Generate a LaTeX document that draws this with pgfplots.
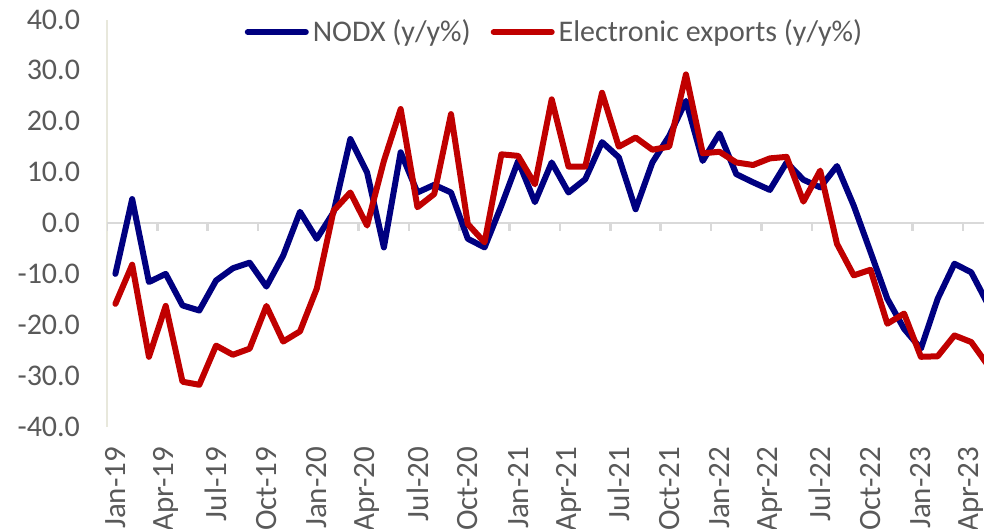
\documentclass[border=0pt]{standalone}
\usepackage{fontspec}
\setmainfont{Carlito}
\usepackage{pgfplots}
\pgfplotsset{compat=1.18}
\definecolor{nodx}{RGB}{0,0,128}
\definecolor{elec}{RGB}{192,0,0}
\definecolor{txt}{RGB}{89,89,89}
\definecolor{zline}{RGB}{217,217,217}
\definecolor{yline}{RGB}{232,232,220}
\begin{document}
\begin{tikzpicture}
\begin{axis}[
  at={(53.5bp,51.25bp)}, anchor=south west,
  scale only axis, width=444.7bp, height=203.5bp,
  xmin=-0.5, xmax=52.5, ymin=-40, ymax=40,
  axis lines*=left,
  x axis line style={draw=none},
  y axis line style={draw=yline, line width=1.3bp},
  xtick={0,3,...,51},
  xticklabels={Jan-19,Apr-19,Jul-19,Oct-19,Jan-20,Apr-20,Jul-20,Oct-20,Jan-21,Apr-21,Jul-21,Oct-21,Jan-22,Apr-22,Jul-22,Oct-22,Jan-23,Apr-23},
  ytick={-40,-30,...,40},
  major tick length=0pt,
  /pgf/number format/assume math mode=true,
  yticklabel style={font=\fontsize{15bp}{18bp}\selectfont, text=txt, xshift=-10bp,
     /pgf/number format/.cd, fixed, fixed zerofill, precision=1},
  xticklabel style={font=\fontsize{15.5bp}{18bp}\selectfont, text=txt, rotate=90, anchor=east, inner sep=0pt, xshift=-10bp},
  legend style={at={(0.5043,0.969)}, anchor=center, draw=none, fill=none,
     font=\fontsize{15bp}{18bp}\selectfont, text=txt,
     /tikz/every even column/.append style={column sep=8bp}},
  legend columns=2,
  legend image code/.code={\draw[#1, line width=3bp, line cap=round] (0bp,0bp) -- (29bp,0bp);},
  every axis plot/.append style={line width=3bp, line join=round, line cap=round, mark=none},
]
\draw[zline, line width=1.3bp] (axis cs:-0.5,0) -- (axis cs:52.5,0);
\pgfplotsinvokeforeach{-0.5,2.5,...,50.5}{
  \draw[zline, line width=1.3bp] (axis cs:#1,0) -- ++(0bp,-4bp);
}
\addplot[nodx] coordinates {
(0,-10.0) (1,4.7) (2,-11.6) (3,-10.0) (4,-16.2) (5,-17.2) (6,-11.3) (7,-8.9) (8,-7.8) (9,-12.5)
(10,-6.4) (11,2.2) (12,-3.1) (13,2.1) (14,16.5) (15,9.9) (16,-4.8) (17,13.9) (18,6.0) (19,7.5)
(20,6.0) (21,-3.1) (22,-4.8) (23,3.4) (24,12.2) (25,4.1) (26,11.9) (27,6.0) (28,8.6) (29,15.9)
(30,12.9) (31,2.7) (32,11.9) (33,17.1) (34,24.0) (35,12.2) (36,17.6) (37,9.6) (38,8.0) (39,6.5)
(40,11.9) (41,8.5) (42,7.0) (43,11.2) (44,3.4) (45,-5.7) (46,-14.9) (47,-20.8) (48,-24.7) (49,-14.9)
(50,-8.0) (51,-9.7) (52,-16.0)
};
\addlegendentry{NODX (y/y\%)}
\addplot[elec] coordinates {
(0,-15.9) (1,-8.2) (2,-26.3) (3,-16.3) (4,-31.2) (5,-31.8) (6,-24.1) (7,-25.9) (8,-24.7) (9,-16.3)
(10,-23.3) (11,-21.3) (12,-12.9) (13,2.4) (14,6.0) (15,-0.5) (16,12.2) (17,22.4) (18,3.1) (19,5.7)
(20,21.4) (21,-0.2) (22,-3.8) (23,13.5) (24,13.2) (25,7.6) (26,24.3) (27,11.1) (28,11.1) (29,25.6)
(30,15.0) (31,16.8) (32,14.4) (33,15.0) (34,29.2) (35,13.7) (36,14.0) (37,11.9) (38,11.4) (39,12.7)
(40,13.0) (41,4.2) (42,10.3) (43,-4.1) (44,-10.3) (45,-9.2) (46,-19.8) (47,-17.8) (48,-26.3) (49,-26.2)
(50,-22.1) (51,-23.4) (52,-28.0)
};
\addlegendentry{Electronic exports (y/y\%)}
\end{axis}
\pgfresetboundingbox
\useasboundingbox (0,0) rectangle (492bp,264.5bp);
\end{tikzpicture}
\end{document}
